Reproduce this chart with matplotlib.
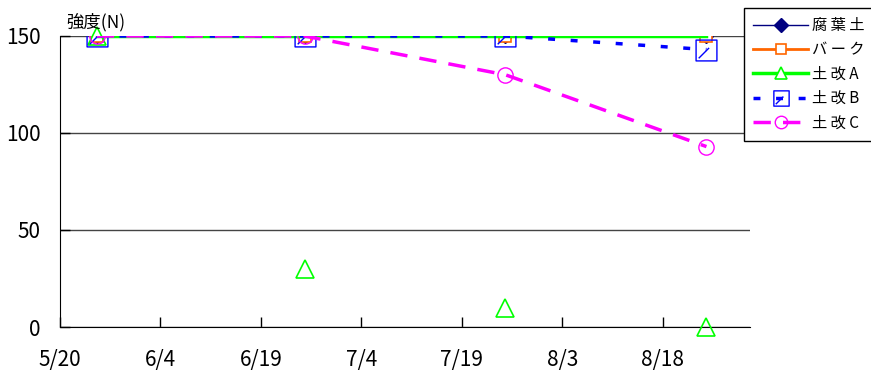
import datetime as dt

import matplotlib
matplotlib.use("Agg")
import matplotlib.pyplot as plt
from matplotlib.path import Path

plt.rcParams["font.family"] = ["Liberation Sans Narrow", "Noto Sans CJK JP", "DejaVu Sans"]

dates = [dt.datetime(2000, 5, 25, 12), dt.datetime(2000, 6, 25, 12),
         dt.datetime(2000, 7, 25, 12), dt.datetime(2000, 8, 24, 12)]
fuyodo = [150, 150, 150, 150]
bark = [150, 150, 150, 150]
dokai_a_line = [150, 150, 150, 150]
dokai_a = [150, 30, 10, 0]
dokai_b = [150, 150, 150, 143]
dokai_c = [150, 150, 130, 93]
labels = ["腐 葉 土", "バ ー ク", "土 改 A", "土 改 B", "土 改 C"]
tick_dates = [dt.datetime(2000, 5, 20) + dt.timedelta(days=15 * i) for i in range(7)]
tick_labels = ["5/20", "6/4", "6/19", "7/4", "7/19", "8/3", "8/18"]

# square with a slash, like the Excel pattern marker
slash_square = Path(
    [(-1, -1), (1, -1), (1, 1), (-1, 1), (-1, -1), (-0.75, -0.75), (0.25, 0.25)],
    [Path.MOVETO, Path.LINETO, Path.LINETO, Path.LINETO, Path.CLOSEPOLY, Path.MOVETO, Path.LINETO],
)

fig = plt.figure(figsize=(8.71, 3.72), dpi=100)
ax = fig.add_axes([60 / 871, 45 / 372, 690 / 871, 291 / 372])

ax.plot(dates, fuyodo, color="#000080", lw=1, marker="D", ms=7, mfc="#000080", mec="#000080",
        label=labels[0], zorder=3)
ax.plot(dates, bark, color="#ff6600", lw=2, marker="s", ms=8, mfc="white", mec="#ff6600",
        mew=1.2, label=labels[1], zorder=4)
ax.plot(dates, dokai_a_line, color="#00ff00", lw=2.5, zorder=5)
ax.plot(dates, dokai_a, color="#00ff00", lw=0, marker="^", ms=13, mfc="none", mec="#00ff00",
        mew=1.2, zorder=5, clip_on=False)
ax.plot([], [], color="#00ff00", lw=2.5, marker="^", ms=9, mfc="white", mec="#00ff00",
        mew=1.2, label=labels[2])
ax.plot(dates, dokai_b, color="#0000ff", lw=2.5, dashes=(2, 4.5), marker=slash_square, ms=15,
        mfc="none", mec="#0000ff", mew=1, label=labels[3], zorder=6)
ax.plot(dates, dokai_c, color="#ff00ff", lw=2.5, dashes=(5, 3.5), marker="o", ms=11,
        mfc="none", mec="#ff00ff", mew=1, label=labels[4], zorder=7)

ax.set_xlim(dt.datetime(2000, 5, 20), dt.datetime(2000, 8, 31))
ax.set_ylim(0, 150)
ax.set_yticks([0, 50, 100, 150])
ax.set_xticks(tick_dates)
ax.set_xticklabels(tick_labels)
ax.tick_params(axis="x", direction="in", length=7, width=1, pad=16, labelsize=15)
ax.tick_params(axis="y", direction="in", length=7, width=1, pad=14, labelsize=15)
ax.grid(axis="y", color="#444444", lw=1)
ax.set_axisbelow(True)
for side in ["top", "right"]:
    ax.spines[side].set_visible(False)

fig.text(96 / 871, 1 - 22 / 372, "強度(N)", ha="center", va="center", fontsize=12.5,
         family=["Noto Sans CJK JP", "DejaVu Sans"])

leg = fig.legend(loc="upper left", bbox_to_anchor=(744 / 871, 1 - 8 / 372), frameon=True,
                 fancybox=False, edgecolor="black", framealpha=1, handlelength=3.6,
                 borderpad=0.6, labelspacing=0.48, handletextpad=0.25, borderaxespad=0,
                 prop={"family": ["Noto Sans CJK JP", "DejaVu Sans"], "size": 11})
leg.get_frame().set_linewidth(1)
for handle, size in zip(leg.legend_handles, [7, 7, 9, 11, 9]):
    handle.set_markersize(size)

fig.savefig("out.png", dpi=100, facecolor="white")
